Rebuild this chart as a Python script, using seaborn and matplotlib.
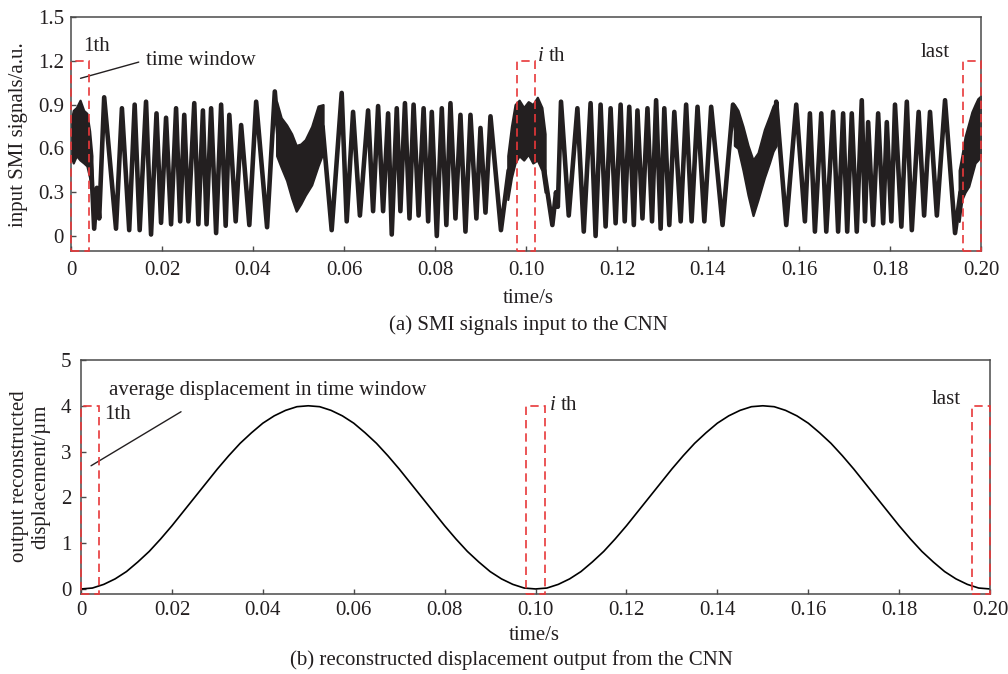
import matplotlib
matplotlib.use("Agg")
import matplotlib.pyplot as plt
import seaborn as sns
from matplotlib.patches import Rectangle

# ---------------- data ----------------
# (a) SMI signal: fringe skeleton (alternating peaks / troughs), one list per fast segment
seg_a_t = [0.0040, 0.0045, 0.0051, 0.0057, 0.0062, 0.0073, 0.0099, 0.0112, 0.0128, 0.0140,
           0.0151, 0.0165, 0.0176, 0.0188, 0.0198, 0.0209, 0.0220, 0.0231, 0.0240, 0.0249,
           0.0258, 0.0271, 0.0280, 0.0290, 0.0298, 0.0308, 0.0319, 0.0330, 0.0340, 0.0348,
           0.0362, 0.0374, 0.0392, 0.0407, 0.0431, 0.0448, 0.0456]
seg_a_v = [0.62, 0.45, 0.05, 0.33, 0.12, 0.95, 0.05, 0.875, 0.04, 0.90,
           0.04, 0.92, 0.01, 0.84, 0.09, 0.81, 0.08, 0.875, 0.10, 0.83,
           0.10, 0.91, 0.08, 0.86, 0.08, 0.875, 0.02, 0.90, 0.07, 0.83,
           0.10, 0.76, 0.075, 0.92, 0.06, 0.99, 0.68]

seg_b_t = [0.0553, 0.0573, 0.0595, 0.0606, 0.0620, 0.0635, 0.0653, 0.0664, 0.0675, 0.0686,
           0.0697, 0.0705, 0.0716, 0.0724, 0.0734, 0.0744, 0.0753, 0.0764, 0.0775, 0.0785,
           0.0793, 0.0804, 0.0815, 0.0825, 0.0834, 0.0845, 0.0856, 0.0867, 0.0878, 0.0891,
           0.0900, 0.0911, 0.0922, 0.0945, 0.0962]
seg_b_v = [0.75, 0.04, 0.98, 0.10, 0.85, 0.14, 0.86, 0.17, 0.89, 0.17,
           0.84, 0.01, 0.875, 0.17, 0.91, 0.12, 0.90, 0.14, 0.875, 0.10,
           0.85, 0.00, 0.875, 0.075, 0.91, 0.12, 0.83, 0.03, 0.83, 0.12,
           0.74, 0.16, 0.82, 0.04, 0.45]

seg_c_t = [0.1040, 0.1058, 0.1066, 0.1070, 0.1077, 0.1094, 0.1113, 0.1127, 0.1142, 0.1153,
           0.1164, 0.1175, 0.1186, 0.1197, 0.1208, 0.1217, 0.1227, 0.1237, 0.1245, 0.1256,
           0.1267, 0.1277, 0.1286, 0.1296, 0.1304, 0.1315, 0.1326, 0.1340, 0.1352, 0.1364,
           0.1377, 0.1392, 0.1407, 0.1432, 0.1455, 0.1462]
seg_c_v = [0.45, 0.075, 0.30, 0.20, 0.92, 0.14, 0.875, 0.03, 0.91, 0.00,
           0.90, 0.065, 0.875, 0.087, 0.90, 0.10, 0.885, 0.075, 0.86, 0.12,
           0.875, 0.10, 0.93, 0.05, 0.875, 0.075, 0.85, 0.10, 0.90, 0.10,
           0.885, 0.10, 0.885, 0.075, 0.90, 0.72]

seg_d_t = [0.1548, 0.1550, 0.1572, 0.1594, 0.1613, 0.1624, 0.1635, 0.1649, 0.1660, 0.1675,
           0.1686, 0.1697, 0.1706, 0.1716, 0.1727, 0.1738, 0.1745, 0.1752, 0.1763, 0.1774,
           0.1785, 0.1793, 0.1803, 0.1811, 0.1825, 0.1837, 0.1848, 0.1863, 0.1875, 0.1888,
           0.1903, 0.1921, 0.1943, 0.1955]
seg_d_v = [0.78, 0.92, 0.075, 0.90, 0.10, 0.84, 0.03, 0.84, 0.03, 0.85,
           0.03, 0.84, 0.03, 0.84, 0.03, 0.93, 0.10, 0.78, 0.075, 0.84,
           0.087, 0.78, 0.10, 0.90, 0.064, 0.92, 0.04, 0.85, 0.14, 0.85,
           0.14, 0.93, 0.02, 0.30]

# noisy bands around the turning points: time, lower edge, upper edge
band1_t = [0.0, 0.0005, 0.0012, 0.0020, 0.0028, 0.0035, 0.0041, 0.0046]
band1_lo = [0.55, 0.50, 0.55, 0.52, 0.50, 0.48, 0.40, 0.30]
band1_hi = [0.78, 0.86, 0.88, 0.93, 0.86, 0.84, 0.72, 0.55]

band2_t = [0.0452, 0.0462, 0.0474, 0.0485, 0.0495, 0.0505, 0.0515, 0.0529, 0.0543, 0.0554]
band2_lo = [0.55, 0.47, 0.38, 0.26, 0.17, 0.22, 0.28, 0.35, 0.48, 0.57]
band2_hi = [0.92, 0.81, 0.76, 0.70, 0.62, 0.63, 0.66, 0.75, 0.89, 0.90]

band3_t = [0.0960, 0.0968, 0.0976, 0.0985, 0.0995, 0.1005, 0.1015, 0.1025, 0.1035, 0.1042]
band3_lo = [0.25, 0.40, 0.50, 0.55, 0.52, 0.56, 0.50, 0.52, 0.45, 0.30]
band3_hi = [0.55, 0.75, 0.90, 0.93, 0.88, 0.92, 0.90, 0.95, 0.88, 0.70]

band4_t = [0.1458, 0.1466, 0.1477, 0.1488, 0.1499, 0.1510, 0.1524, 0.1535, 0.1543, 0.1550]
band4_lo = [0.62, 0.60, 0.45, 0.28, 0.14, 0.25, 0.40, 0.50, 0.58, 0.62]
band4_hi = [0.90, 0.86, 0.75, 0.62, 0.52, 0.57, 0.73, 0.82, 0.89, 0.92]

band5_t = [0.1952, 0.1958, 0.1965, 0.1973, 0.1980, 0.1987, 0.1993, 0.2000]
band5_lo = [0.10, 0.25, 0.30, 0.34, 0.42, 0.50, 0.52, 0.55]
band5_hi = [0.45, 0.55, 0.68, 0.77, 0.85, 0.90, 0.94, 0.96]

# (b) reconstructed displacement, sampled every 0.0025 s
disp_t = [round(0.0025 * i, 4) for i in range(81)]
disp_v = [0.00, 0.02, 0.10, 0.22, 0.38, 0.59, 0.82, 1.09, 1.38, 1.69,
          2.00, 2.31, 2.62, 2.91, 3.18, 3.41, 3.62, 3.78, 3.90, 3.98,
          4.00, 3.98, 3.90, 3.78, 3.62, 3.41, 3.18, 2.91, 2.62, 2.31,
          2.00, 1.69, 1.38, 1.09, 0.82, 0.59, 0.38, 0.22, 0.10, 0.02,
          0.00, 0.02, 0.10, 0.22, 0.38, 0.59, 0.82, 1.09, 1.38, 1.69,
          2.00, 2.31, 2.62, 2.91, 3.18, 3.41, 3.62, 3.78, 3.90, 3.98,
          4.00, 3.98, 3.90, 3.78, 3.62, 3.41, 3.18, 2.91, 2.62, 2.31,
          2.00, 1.69, 1.38, 1.09, 0.82, 0.59, 0.38, 0.22, 0.10, 0.02,
          0.00]

# time windows (start, end)
win_start = [0.0, 0.098, 0.196]
win_end = [0.004, 0.102, 0.200]
win_labels = ["1th", "$i$ th", "last"]

x_ticks = [0, 0.02, 0.04, 0.06, 0.08, 0.10, 0.12, 0.14, 0.16, 0.18, 0.20]
x_ticklabels = ["0", "0.02", "0.04", "0.06", "0.08", "0.10", "0.12", "0.14", "0.16", "0.18", "0.20"]
y1_ticks = [0, 0.3, 0.6, 0.9, 1.2, 1.5]
y1_ticklabels = ["0", "0.3", "0.6", "0.9", "1.2", "1.5"]
y2_ticks = [0, 1, 2, 3, 4, 5]
y2_ticklabels = ["0", "1", "2", "3", "4", "5"]

# ---------------- style ----------------
sns.set_style("ticks")
plt.rcParams["font.family"] = ["Liberation Serif", "DejaVu Serif"]
plt.rcParams["mathtext.fontset"] = "custom"
plt.rcParams["mathtext.rm"] = "Liberation Serif"
plt.rcParams["mathtext.it"] = "Liberation Serif:italic"
FS = 15
INK = "#231f20"
RED = "#e8383a"
SPINE = "#4a4a4a"

fig = plt.figure(figsize=(10.08, 6.74), dpi=100)
ax1 = fig.add_axes([0.0704, 0.6269, 0.9028, 0.3479])
ax2 = fig.add_axes([0.0804, 0.1187, 0.9018, 0.3472])

for ax in (ax1, ax2):
    for s in ax.spines.values():
        s.set_visible(True)
        s.set_color(SPINE)
        s.set_linewidth(1.1)
    ax.tick_params(direction="in", length=3.5, width=1.0, color=SPINE,
                   labelcolor=INK, labelsize=FS, top=False, right=False)
    ax.set_xlim(0, 0.2)
    ax.set_xticks(x_ticks)
    ax.set_xticklabels(x_ticklabels)
    ax.set_xlabel("")
    ax.set_ylabel("")
    ax.grid(False)

ax1.tick_params(axis="x", pad=7)
ax1.tick_params(axis="y", pad=5)
ax2.tick_params(axis="x", pad=5)
ax2.tick_params(axis="y", pad=7)

# ---------------- (a) SMI signal ----------------
for st, sv in [(seg_a_t, seg_a_v), (seg_b_t, seg_b_v), (seg_c_t, seg_c_v), (seg_d_t, seg_d_v)]:
    sns.lineplot(x=st, y=sv, ax=ax1, color=INK, lw=3.3, sort=False, estimator=None)
for bt, blo, bhi in [(band1_t, band1_lo, band1_hi), (band2_t, band2_lo, band2_hi),
                     (band3_t, band3_lo, band3_hi), (band4_t, band4_lo, band4_hi),
                     (band5_t, band5_lo, band5_hi)]:
    ax1.fill_between(bt, blo, bhi, color=INK, lw=1.6, zorder=2)

ax1.set_ylim(-0.106, 1.5)
ax1.set_yticks(y1_ticks)
ax1.set_yticklabels(y1_ticklabels)

# ---------------- (b) displacement ----------------
sns.lineplot(x=disp_t, y=disp_v, ax=ax2, color="black", lw=1.2, sort=False, estimator=None)
ax2.set_ylim(-0.11, 5)
ax2.set_yticks(y2_ticks)
ax2.set_yticklabels(y2_ticklabels)

# time-window rectangles
for ax, top in ((ax1, 1.2), (ax2, 4.0)):
    y0 = ax.get_ylim()[0]
    for a, b in zip(win_start, win_end):
        ax.add_patch(Rectangle((a, y0), b - a, top - y0, fill=False, ec=RED, lw=1.2,
                               ls=(0, (5, 3)), clip_on=False, zorder=6))

# annotations (a)
ax1.text(0.0026, 1.30, win_labels[0], fontsize=FS, color=INK, ha="left", va="center")
ax1.text(0.1024, 1.23, win_labels[1], fontsize=FS, color=INK, ha="left", va="center")
ax1.text(0.1868, 1.26, win_labels[2], fontsize=FS, color=INK, ha="left", va="center")
ax1.annotate("time window", xy=(0.0021, 1.08), xytext=(0.0165, 1.205),
             fontsize=FS, color=INK, ha="left", va="center",
             arrowprops=dict(arrowstyle="-", color=INK, lw=1.0, relpos=(0, 0.5),
                             shrinkA=3, shrinkB=0))

# annotations (b)
ax2.text(0.0051, 3.80, win_labels[0], fontsize=FS, color=INK, ha="left", va="center")
ax2.text(0.1030, 4.00, win_labels[1], fontsize=FS, color=INK, ha="left", va="center")
ax2.text(0.1872, 4.13, win_labels[2], fontsize=FS, color=INK, ha="left", va="center")
ax2.text(0.0062, 4.34, "average displacement in time window", fontsize=FS, color=INK,
         ha="left", va="center")
ax2.annotate("", xy=(0.0022, 2.69), xytext=(0.0220, 3.87),
             arrowprops=dict(arrowstyle="-", color=INK, lw=1.0, shrinkA=0, shrinkB=0))

# axis labels and captions
fig.text(0.0179, 0.801, "input SMI signals/a.u.", rotation=90, fontsize=FS, color=INK,
         ha="center", va="center")
fig.text(0.0298, 0.293, "output reconstructed\ndisplacement/\u00b5m", rotation=90, fontsize=FS,
         color=INK, ha="center", va="center", multialignment="center", linespacing=1.15)
fig.text(0.524, 1 - 299 / 674, "time/s", fontsize=FS, color=INK, ha="center", va="center")
fig.text(0.524, 1 - 325 / 674, "(a) SMI signals input to the CNN", fontsize=FS, color=INK,
         ha="center", va="center")
fig.text(0.530, 1 - 635 / 674, "time/s", fontsize=FS, color=INK, ha="center", va="center")
fig.text(0.507, 1 - 660 / 674, "(b) reconstructed displacement output from the CNN",
         fontsize=FS, color=INK, ha="center", va="center")

fig.savefig("out.png", dpi=100)
